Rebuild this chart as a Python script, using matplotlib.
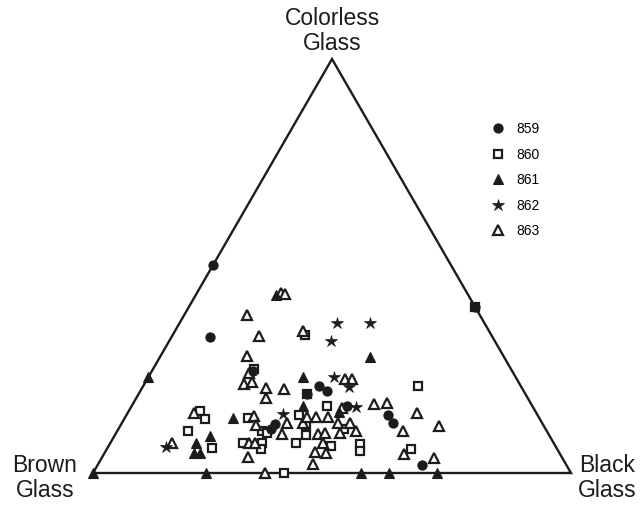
import matplotlib
matplotlib.use("Agg")
import matplotlib.pyplot as plt
from matplotlib.lines import Line2D
import numpy as np

plt.rcParams['font.family'] = ['Liberation Sans', 'DejaVu Sans']

# Ternary compositions (percent colorless glass, percent black glass; rest = brown glass)
s859_colorless = [50.2, 32.9, 24.6, 21.0, 19.8, 19.1, 16.2, 10.6, 11.8, 14.0, 12.1, 1.9, 40.0]
s859_black = [0.0, 8.0, 21.2, 36.8, 39.1, 35.2, 45.0, 31.9, 32.2, 54.7, 56.8, 67.9, 60.0]

s860_colorless = [25.1, 33.3, 21.0, 15.0, 13.0, 13.3, 10.1, 6.0, 7.2, 7.2, 5.8, 10.1, 9.7,
                  14.0, 11.4, 7.2, 9.2, 16.2, 6.5, 10.6, 7.0, 5.3, 5.8, 0.0, 19.1, 40.0]
s860_black = [21.2, 27.8, 57.5, 14.9, 16.9, 25.8, 14.9, 21.9, 27.8, 31.8, 32.2, 30.4, 31.6,
              36.1, 38.9, 38.9, 40.0, 40.9, 46.6, 47.2, 52.4, 53.3, 63.6, 40.0, 35.2, 60.0]

s861_colorless = [0.0, 23.2, 43.0, 28.0, 23.2, 16.2, 13.3, 8.9, 7.2, 4.8, 4.8, 14.7,
                  0.0, 0.0, 0.0, 0.0]
s861_black = [0.0, 0.0, 16.8, 43.9, 32.3, 35.8, 22.7, 20.1, 17.9, 18.7, 20.0, 44.2,
              23.6, 56.1, 61.9, 72.0]

s862_colorless = [36.2, 36.2, 31.9, 23.2, 20.8, 15.9, 14.3, 6.3]
s862_black = [32.9, 39.8, 33.9, 38.8, 43.2, 47.1, 32.6, 12.2]

s863_colorless = [43.5, 43.2, 38.2, 33.1, 34.3, 28.3, 24.2, 21.5, 22.0, 20.5, 18.1, 20.3,
                  22.7, 22.7, 16.7, 16.9, 14.5, 13.8, 11.6, 7.2, 7.2, 7.2, 3.9, 12.1,
                  9.4, 12.1, 13.5, 13.5, 13.5, 15.7, 12.1, 12.1, 10.1, 9.4, 9.7, 9.7,
                  7.2, 4.8, 5.1, 2.2, 0.0, 14.5, 10.1, 11.4, 4.6, 3.6]
s863_black = [17.6, 18.6, 13.1, 18.2, 26.8, 18.1, 20.5, 20.9, 22.3, 26.0, 27.2, 29.9,
              41.4, 42.9, 50.5, 53.1, 13.9, 26.8, 28.3, 12.9, 29.0, 30.3, 30.5, 34.6,
              34.8, 37.9, 38.1, 40.0, 42.5, 44.3, 45.3, 47.8, 50.0, 42.4, 43.7, 46.9,
              44.5, 46.3, 43.9, 44.9, 36.0, 60.6, 59.8, 66.7, 62.8, 69.5]

series_labels = ["859", "860", "861", "862", "863"]
vertex_labels = ["Brown\nGlass", "Black\nGlass", "Colorless\nGlass"]

INK = '#1c1c1c'


def to_xy(colorless, black):
    c = np.asarray(colorless, float)
    b = np.asarray(black, float)
    return b + c / 2.0, c


fig = plt.figure(figsize=(6.4, 5.05), dpi=100)
ax = fig.add_axes([0, 0, 1, 1])
ax.set_xlim(-19.46, 114.44)
ax.set_ylim(-7.73, 114.25)
ax.axis('off')

# triangle frame
ax.plot([0, 100, 50, 0], [0, 0, 100, 0], color=INK, lw=1.7,
        solid_joinstyle='miter', zorder=1)

styles = [
    dict(marker='o', ms=6.6, mfc=INK, mec=INK, mew=0.8),
    dict(marker='s', ms=5.4, mfc='white', mec=INK, mew=1.6),
    dict(marker='^', ms=6.8, mfc=INK, mec=INK, mew=0.8),
    dict(marker='*', ms=8.8, mfc=INK, mec=INK, mew=0.5),
    dict(marker='^', ms=6.8, mfc='white', mec=INK, mew=1.6),
]
zorders = [5, 3, 4, 4, 3]
data = [
    (s859_colorless, s859_black),
    (s860_colorless, s860_black),
    (s861_colorless, s861_black),
    (s862_colorless, s862_black),
    (s863_colorless, s863_black),
]
for (col, blk), st, z in zip(data, styles, zorders):
    x, y = to_xy(col, blk)
    ax.plot(x, y, ls='none', zorder=z, **st)

handles = [Line2D([], [], ls='none', **st) for st in styles]
fig.legend(handles, series_labels, loc='upper left',
           bbox_to_anchor=(491 / 640, 1 - 122 / 505), frameon=False,
           fontsize=10, handlelength=1.0, handletextpad=0.8,
           labelspacing=0.83, borderpad=0, borderaxespad=0)

fs = 16.5
fig.text(332 / 640, 1 - 31 / 505, vertex_labels[2], ha='center', va='center',
         fontsize=fs, color=INK, linespacing=1.12)
fig.text(45 / 640, 1 - 478 / 505, vertex_labels[0], ha='center', va='center',
         fontsize=fs, color=INK, linespacing=1.12)
fig.text(607 / 640, 1 - 478 / 505, vertex_labels[1], ha='center', va='center',
         fontsize=fs, color=INK, linespacing=1.12)

fig.savefig('out.png', dpi=100, facecolor='white')
